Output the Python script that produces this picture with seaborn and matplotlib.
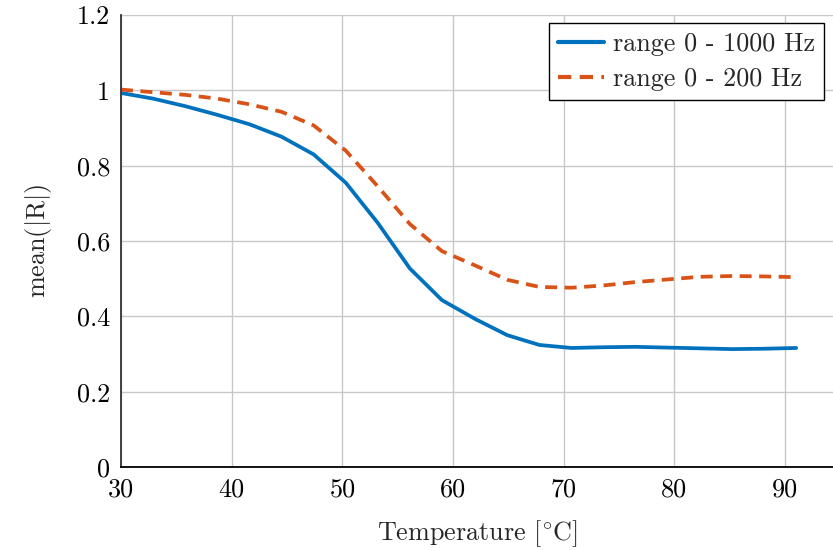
import matplotlib
matplotlib.use("Agg")
import matplotlib.pyplot as plt
import seaborn as sns
import pandas as pd

# Temperature sweep (°C) and mean |R| for two frequency ranges
temperature = [30.0, 32.9, 35.8, 38.7, 41.6, 44.5, 47.4, 50.3, 53.2, 56.1, 59.0,
               62.0, 64.9, 67.8, 70.7, 73.6, 76.5, 79.4, 82.3, 85.2, 88.1, 91.0]
r_1000 = [0.993, 0.978, 0.958, 0.935, 0.910, 0.877, 0.830, 0.755, 0.648, 0.527, 0.443,
          0.393, 0.350, 0.324, 0.316, 0.318, 0.319, 0.317, 0.315, 0.313, 0.314, 0.316]
r_200 = [1.002, 0.995, 0.988, 0.978, 0.963, 0.943, 0.907, 0.840, 0.745, 0.645, 0.573,
         0.535, 0.497, 0.478, 0.476, 0.482, 0.491, 0.498, 0.505, 0.507, 0.506, 0.504]
series_names = ["range 0 - 1000 Hz", "range 0 - 200 Hz"]
y_ticks = [0, 0.2, 0.4, 0.6, 0.8, 1.0, 1.2]
y_tick_labels = ["0", "0.2", "0.4", "0.6", "0.8", "1", "1.2"]
x_ticks = [30, 40, 50, 60, 70, 80, 90]

sns.set_theme(style="whitegrid")
plt.rcParams.update({
    "font.family": "serif",
    "font.serif": ["cmr10"],
    "mathtext.fontset": "cm",
    "axes.unicode_minus": False,
    "axes.formatter.use_mathtext": True,
})

df = pd.DataFrame({
    "T": temperature * 2,
    "R": r_1000 + r_200,
    "series": [series_names[0]] * len(temperature) + [series_names[1]] * len(temperature),
})

fig = plt.figure(figsize=(8.33, 5.5), dpi=100)
ax = fig.add_axes([121 / 833, 83 / 550, 712 / 833, 452 / 550])

palette = {series_names[0]: "#0072BD", series_names[1]: "#D95319"}
sns.lineplot(data=df, x="T", y="R", hue="series", style="series",
             palette=palette, dashes={series_names[0]: "", series_names[1]: (3.2, 2.0)},
             linewidth=2.7, ax=ax, legend=True)

ax.set_xlim(30, 94.33)
ax.set_ylim(0, 1.2)
ax.set_xticks(x_ticks)
ax.set_xticklabels([str(t) for t in x_ticks])
ax.set_yticks(y_ticks)
ax.set_yticklabels(y_tick_labels)

fs = 18.8
ax.tick_params(axis="both", labelsize=fs, length=0, pad=8, colors="black")
ax.grid(True, color="#c8c8c8", linewidth=1.0)
ax.set_facecolor("white")

for side in ["top", "right"]:
    ax.spines[side].set_visible(False)
ax.spines["left"].set_color("#333333")
ax.spines["bottom"].set_color("black")
ax.spines["left"].set_linewidth(1.3)
ax.spines["bottom"].set_linewidth(1.3)

ax.set_xlabel(r"Temperature [$^{\circ}$C]", fontsize=fs, labelpad=12)
ax.set_ylabel(r"$\mathrm{mean}(|\mathrm{R}|)$", fontsize=fs, labelpad=16)

leg = ax.legend(loc="upper right", bbox_to_anchor=(703 / 712, 1 - 8 / 452),
                fontsize=fs, frameon=True, fancybox=False, borderaxespad=0,
                handlelength=1.75, handletextpad=0.35, borderpad=0.35, labelspacing=0.45)
leg.get_frame().set_edgecolor("black")
leg.get_frame().set_linewidth(1.0)
leg.get_frame().set_alpha(1)
for line in leg.get_lines():
    line.set_linewidth(3.0)

fig.savefig("out.png", dpi=100, facecolor="white")
